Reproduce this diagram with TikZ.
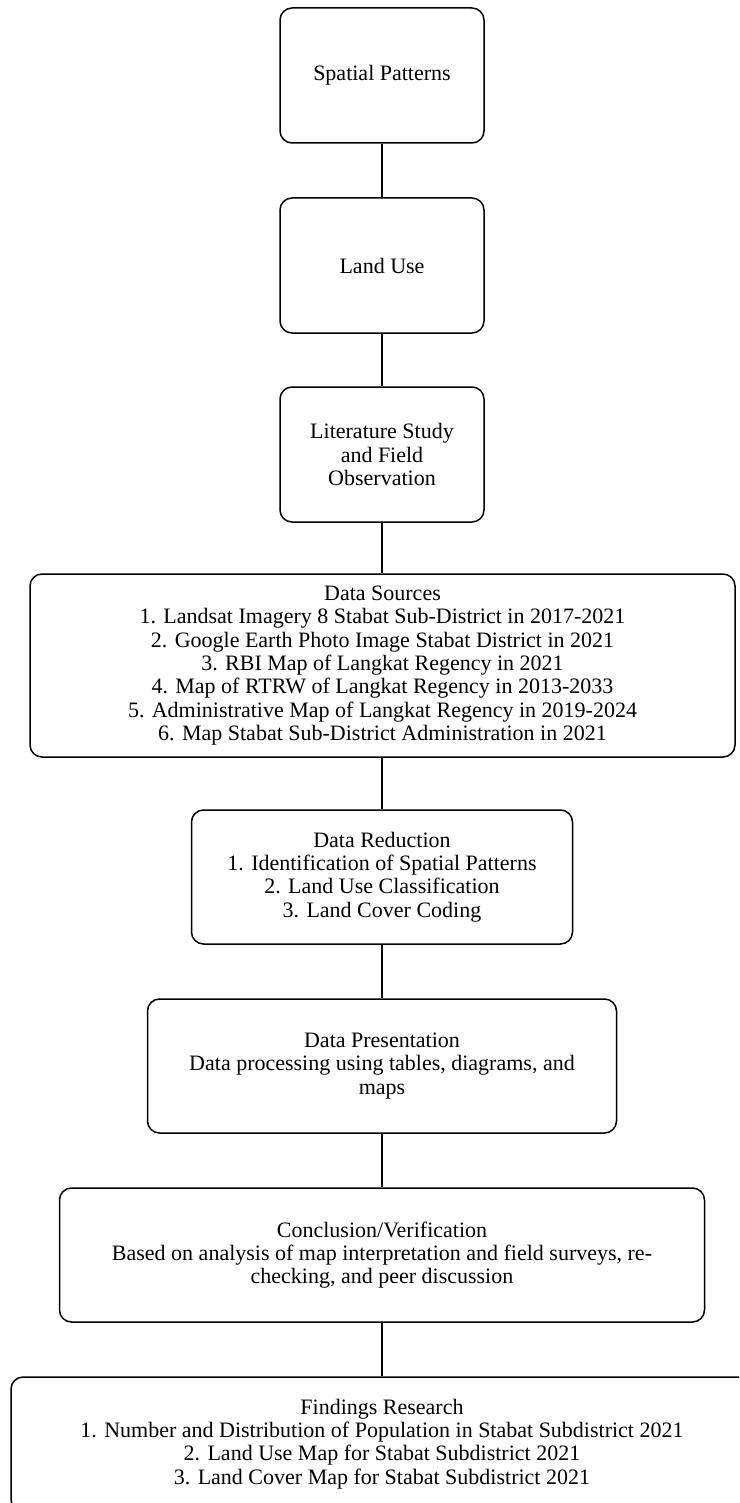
\documentclass[tikz,border=0pt]{standalone}
\usepackage{fontspec}
\setmainfont{Liberation Serif}
\tikzset{
  flowbox/.style={draw=black, line width=1.5pt, rounded corners=12pt, align=center,
    inner sep=0pt, font=\fontsize{22}{23.3}\selectfont},
  link/.style={draw=black, line width=1.5pt}
}
\begin{document}
\begin{tikzpicture}[x=1pt,y=-1pt]
\clip (0,0) rectangle (739,1503);
\fill[white] (0,0) rectangle (739,1503);
\node[flowbox, minimum width=204pt, minimum height=135pt] (sp) at (382,75.5) {Spatial Patterns};
\node[flowbox, minimum width=204pt, minimum height=135pt] (lu) at (382,265.5) {Land Use};
\node[flowbox, minimum width=204pt, minimum height=135pt] (lit) at (382,454.5) {Literature Study\\and Field\\Observation};
\node[flowbox, minimum width=705pt, minimum height=183pt] (ds) at (382.5,665.5) {Data Sources\\
1. Landsat Imagery 8 Stabat Sub-District in 2017-2021\\
2. Google Earth Photo Image Stabat District in 2021\\
3. RBI Map of Langkat Regency in 2021\\
4. Map of RTRW of Langkat Regency in 2013-2033\\
5. Administrative Map of Langkat Regency in 2019-2024\\
6. Map Stabat Sub-District Administration in 2021};
\node[flowbox, minimum width=381pt, minimum height=134pt] (dr) at (382,877) {Data Reduction\\
1. Identification of Spatial Patterns\\
2. Land Use Classification\\
3. Land Cover Coding};
\node[flowbox, minimum width=469pt, minimum height=134pt] (dp) at (382,1066) {Data Presentation\\
Data processing using tables, diagrams, and\\maps};
\node[flowbox, minimum width=645pt, minimum height=134pt] (cv) at (382,1255) {Conclusion/Verification\\
Based on analysis of map interpretation and field surveys, re-\\checking, and peer discussion};
\node[flowbox, minimum width=742pt, minimum height=134pt] (fr) at (382,1444) {Findings Research\\
1. Number and Distribution of Population in Stabat Subdistrict 2021\\
2. Land Use Map for Stabat Subdistrict 2021\\
3. Land Cover Map for Stabat Subdistrict 2021};
\draw[link] (sp) -- (lu);
\draw[link] (lu) -- (lit);
\draw[link] (lit) -- (lit |- ds.north);
\draw[link] (dr |- ds.south) -- (dr);
\draw[link] (dr) -- (dp);
\draw[link] (dp) -- (cv);
\draw[link] (cv) -- (fr);
\end{tikzpicture}
\end{document}
